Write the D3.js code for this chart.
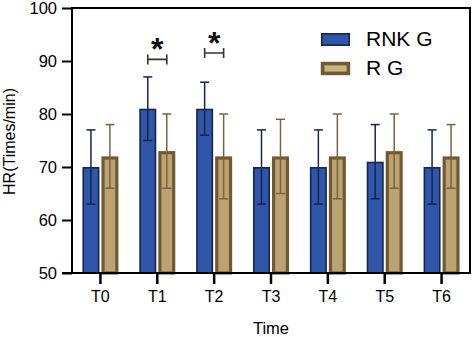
<!DOCTYPE html>
<html>
<head>
<meta charset="utf-8">
<script src="https://cdn.jsdelivr.net/npm/d3@7"></script>
<style>
  html, body { margin: 0; padding: 0; background: #fff; }
  svg { display: block; font-family: "Liberation Sans", Arial, sans-serif; }
</style>
</head>
<body>
<svg id="chart" width="473" height="337"></svg>
<script>
const categories = ["T0", "T1", "T2", "T3", "T4", "T5", "T6"];
const seriesNames = ["RNK G", "R G"];
const rnkMean = [70, 81, 81, 70, 70, 71, 70];
const rnkErr  = [7, 6, 5, 7, 7, 7, 7];
const rgMean  = [72, 73, 72, 72, 72, 73, 72];
const rgErr   = [6, 7, 8, 7, 8, 7, 6];
const yTicks  = [50, 60, 70, 80, 90, 100];
const sigMarks = [{ cat: "T1", level: 90.3 }, { cat: "T2", level: 91.5 }];

const svg = d3.select("#chart");
const L = 72, R = 470, T = 8, B = 273;

const x = d3.scaleBand().domain(categories).range([L, R]).padding(0);
const xs = d3.scaleBand().domain(seriesNames).range([0, x.bandwidth()])
  .paddingInner(0.105).paddingOuter(0.549);
const y = d3.scaleLinear().domain([50, 100]).range([B, T]);

const styles = {
  "RNK G": { fill: "#2F56A8", stroke: "#15254F", sw: 1.6, err: "#15254F" },
  "R G":   { fill: "#BCA371", stroke: "#6F5A33", sw: 3.2, err: "#7A6440" }
};

const data = [];
categories.forEach((c, i) => {
  data.push({ cat: c, s: "RNK G", v: rnkMean[i], e: rnkErr[i] });
  data.push({ cat: c, s: "R G", v: rgMean[i], e: rgErr[i] });
});

// bars
svg.append("g").selectAll("rect").data(data).join("rect")
  .attr("x", d => x(d.cat) + xs(d.s) + styles[d.s].sw / 2)
  .attr("width", d => xs.bandwidth() - styles[d.s].sw)
  .attr("y", d => y(d.v) + styles[d.s].sw / 2)
  .attr("height", d => y(50) - y(d.v) - styles[d.s].sw / 2)
  .attr("fill", d => styles[d.s].fill)
  .attr("stroke", d => styles[d.s].stroke)
  .attr("stroke-width", d => styles[d.s].sw);

// error bars
const cap = 4.5;
const cx = d => x(d.cat) + xs(d.s) + xs.bandwidth() / 2;
const eg = svg.append("g").selectAll("g").data(data).join("g")
  .attr("stroke", d => styles[d.s].err)
  .attr("stroke-width", 1.5)
  .attr("fill", "none");
eg.append("line")
  .attr("x1", cx).attr("x2", cx)
  .attr("y1", d => y(d.v + d.e))
  .attr("y2", d => y(d.v - d.e));
eg.append("line")
  .attr("x1", d => cx(d) - cap).attr("x2", d => cx(d) + cap)
  .attr("y1", d => y(d.v + d.e)).attr("y2", d => y(d.v + d.e));
eg.append("line")
  .attr("x1", d => cx(d) - cap).attr("x2", d => cx(d) + cap)
  .attr("y1", d => y(d.v - d.e)).attr("y2", d => y(d.v - d.e));

// frame (top and right)
svg.append("path")
  .attr("d", `M${L},${T}H${R}V${B}`)
  .attr("fill", "none").attr("stroke", "#000").attr("stroke-width", 2);

// y axis
const yAxis = svg.append("g").attr("transform", `translate(${L},0)`)
  .call(d3.axisLeft(y).tickValues(yTicks).tickSize(10).tickPadding(5).tickSizeOuter(0));
yAxis.select(".domain").attr("stroke-width", 2).attr("d", `M0,${B + 1}V${T - 1}`);
yAxis.selectAll(".tick line").attr("stroke-width", 2);
yAxis.selectAll(".tick text").attr("font-size", 16.5).attr("fill", "#000")
  .attr("font-family", "Liberation Sans, Arial, sans-serif");

// x axis
const xAxis = svg.append("g").attr("transform", `translate(0,${B})`)
  .call(d3.axisBottom(x).tickSize(11).tickPadding(7).tickSizeOuter(0));
xAxis.select(".domain").attr("stroke-width", 2).attr("d", `M${L - 10},0H${R + 1}`);
xAxis.selectAll(".tick line").attr("stroke-width", 2.5);
xAxis.selectAll(".tick text").attr("font-size", 16).attr("fill", "#000")
  .attr("font-family", "Liberation Sans, Arial, sans-serif");

// axis titles
svg.append("text")
  .attr("transform", `translate(15,${(T + B) / 2 + 1}) rotate(-90)`)
  .attr("text-anchor", "middle")
  .attr("font-size", 16).attr("fill", "#000")
  .text("HR(Times/min)");
svg.append("text")
  .attr("x", (L + R) / 2).attr("y", 333.5)
  .attr("text-anchor", "middle")
  .attr("font-size", 16.5).attr("fill", "#000")
  .text("Time");

// significance brackets
const sg = svg.append("g").selectAll("g").data(sigMarks).join("g");
const bx1 = d => x(d.cat) + xs("RNK G") + xs.bandwidth() / 2;
const bx2 = d => x(d.cat) + xs("R G") + xs.bandwidth() / 2;
sg.append("path")
  .attr("d", d => `M${bx1(d)},${y(d.level) - 5}V${y(d.level) + 5}M${bx1(d)},${y(d.level)}H${bx2(d)}M${bx2(d)},${y(d.level) - 5}V${y(d.level) + 5}`)
  .attr("fill", "none").attr("stroke", "#333").attr("stroke-width", 1.6);
sg.append("text")
  .attr("x", d => (bx1(d) + bx2(d)) / 2)
  .attr("y", d => y(d.level) + 0.5)
  .attr("text-anchor", "middle")
  .attr("font-size", 32).attr("font-weight", "bold").attr("fill", "#111")
  .text("*");

// legend
const lg = svg.append("g").selectAll("g").data(seriesNames).join("g")
  .attr("transform", (d, i) => `translate(321,${33 + i * 29})`);
lg.append("rect")
  .attr("x", d => styles[d].sw / 2).attr("y", d => styles[d].sw / 2)
  .attr("width", d => 29 - styles[d].sw).attr("height", d => 13 - styles[d].sw)
  .attr("fill", d => d === "R G" ? "#C9B486" : styles[d].fill)
  .attr("stroke", d => styles[d].stroke)
  .attr("stroke-width", d => d === "R G" ? 3.6 : styles[d].sw);
lg.append("text")
  .attr("x", 45).attr("y", 13.3)
  .attr("font-size", 21).attr("fill", "#000")
  .text(d => d);
</script>
</body>
</html>
